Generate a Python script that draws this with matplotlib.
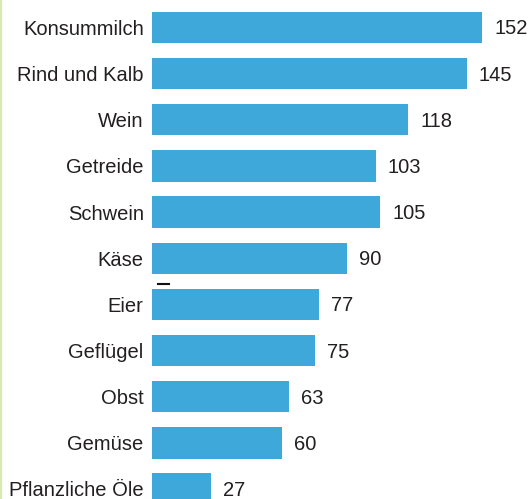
import matplotlib
matplotlib.use("Agg")
import matplotlib.pyplot as plt
from matplotlib.lines import Line2D

categories = ["Konsummilch", "Rind und Kalb", "Wein", "Getreide", "Schwein", "Käse",
              "Eier", "Geflügel", "Obst", "Gemüse", "Pflanzliche Öle"]
values = [152, 145, 118, 103, 105, 90, 77, 75, 63, 60, 27]

W, H, DPI = 530, 499, 100
fig = plt.figure(figsize=(W / DPI, H / DPI), dpi=DPI)
plt.rcParams['font.family'] = ['Liberation Sans', 'DejaVu Sans']

left_px = 152
scale = 2.172
step = 46.15
first_c = 27.5
ax = fig.add_axes([left_px / W, 0, (W - left_px) / W, 1])
ax.set_xlim(0, (W - left_px) / scale)
ax.set_ylim((H - first_c) / step, -first_c / step)

bar_color = "#3FA8DB"
text_color = "#231F20"
pos = list(range(len(categories)))
ax.barh(pos, values, height=0.68, color=bar_color)
for p, v in zip(pos, values):
    ax.annotate(str(v), (v, p), xytext=(12, -1.5), textcoords="offset pixels",
                ha="left", va="center", fontsize=14.5, color=text_color)

ax.set_yticks(pos)
ax.set_yticklabels(categories, fontsize=14.5, color=text_color)
ax.tick_params(axis="y", length=0, pad=6)
ax.set_xticks([])
for s in ax.spines.values():
    s.set_visible(False)

# decorations
fig.add_artist(Line2D([0.8 / W, 0.8 / W], [0, 1], color="#D5EBB0", lw=1.6,
                      transform=fig.transFigure))
fig.add_artist(Line2D([158 / W, 169 / W], [1 - 283.5 / H, 1 - 283.5 / H], color="#111111",
                      lw=1.5, transform=fig.transFigure))

fig.savefig("out.png", dpi=DPI)
